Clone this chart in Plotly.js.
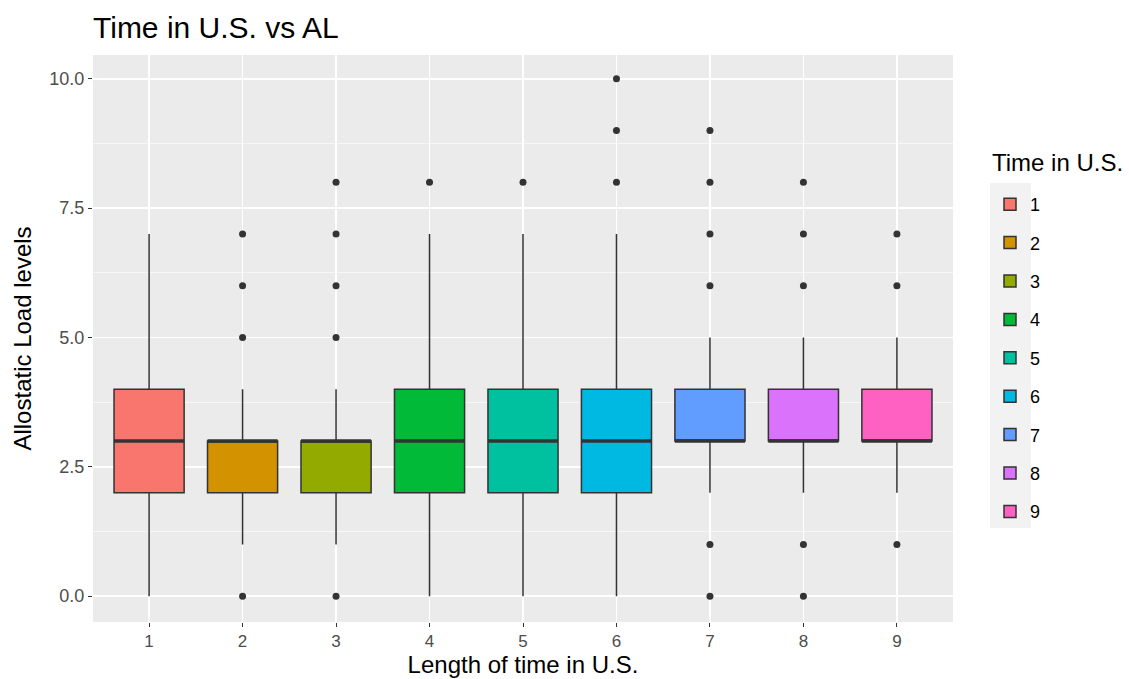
<!DOCTYPE html>
<html>
<head>
<meta charset="utf-8">
<script src="https://cdn.plot.ly/plotly-3.0.1.min.js"></script>
<style>html,body{margin:0;padding:0;background:#fff;}#chart{width:1129px;height:679px;}</style>
</head>
<body>
<div id="chart"></div>
<script>
const groups = [1,2,3,4,5,6,7,8,9];
const groupLabels = ['1','2','3','4','5','6','7','8','9'];
const colors = ['#F8766D','#D39200','#93AA00','#00BA38','#00C19F','#00B9E3','#619CFF','#DB72FB','#FF61C3'];
const q1 = [2,2,2,2,2,2,3,3,3];
const medians = [3,3,3,3,3,3,3,3,3];
const q3 = [4,3,3,4,4,4,4,4,4];
const lowerWhisker = [0,1,1,0,0,0,2,2,2];
const upperWhisker = [7,4,4,7,7,7,5,5,5];
const outliers = [
  [],
  [0,5,6,7],
  [0,5,6,7,8],
  [8],
  [8],
  [8,9,10],
  [0,1,6,7,8,9],
  [0,1,6,7,8],
  [1,6,7]
];
const boxWidth = 0.75;

const traces = [];
groups.forEach((g,i)=>{
  traces.push({
    type:'box', x:[g], q1:[q1[i]], median:[medians[i]], q3:[q3[i]],
    lowerfence:[lowerWhisker[i]], upperfence:[upperWhisker[i]],
    width: boxWidth, whiskerwidth:0,
    fillcolor: colors[i], line:{color:'#333333', width:1.5},
    name: groupLabels[i], legendgroup: groupLabels[i], showlegend:true,
    hoverinfo:'skip'
  });
});
// thick median lines
const mx=[], my=[];
groups.forEach((g,i)=>{ mx.push(g-boxWidth/2, g+boxWidth/2, null); my.push(medians[i], medians[i], null); });
traces.push({type:'scatter', mode:'lines', x:mx, y:my, line:{color:'#333333', width:3.5}, showlegend:false, hoverinfo:'skip'});
// outliers
const ox=[], oy=[];
groups.forEach((g,i)=>{ outliers[i].forEach(v=>{ ox.push(g); oy.push(v); }); });
traces.push({type:'scatter', mode:'markers', x:ox, y:oy, marker:{color:'#333333', size:7}, showlegend:false, hoverinfo:'skip'});

const layout = {
  width:1129, height:679,
  margin:{l:93, r:176, t:55, b:57},
  paper_bgcolor:'#ffffff', plot_bgcolor:'#EBEBEB',
  font:{family:'Arial, Liberation Sans, sans-serif', color:'#000'},
  title:{text:'Time in U.S. vs AL', x:93/1129, xanchor:'left', y:1-27/679, yanchor:'middle', font:{size:30, color:'#000'}},
  boxmode:'overlay',
  xaxis:{
    range:[0.4,9.6], tickvals:groups, ticktext:groupLabels, showgrid:true, gridcolor:'#ffffff', gridwidth:1.5,
    zeroline:false, ticks:'outside', ticklen:4, tickcolor:'#333333', tickfont:{size:17, color:'#4D4D4D'},
    title:{text:'Length of time in U.S.', font:{size:24, color:'#000'}, standoff:4}
  },
  yaxis:{
    range:[-0.5,10.46], tick0:0, dtick:2.5, tickformat:'.1f', showgrid:true, gridcolor:'#ffffff', gridwidth:1.5,
    minor:{dtick:1.25, tick0:0, showgrid:true, gridcolor:'#ffffff', gridwidth:0.6},
    zeroline:false, ticks:'outside', ticklen:4, tickcolor:'#333333', tickfont:{size:18, color:'#4D4D4D'},
    title:{text:'Allostatic Load levels', font:{size:24, color:'#000'}, standoff:10}
  },
  shapes:[{type:'rect', xref:'paper', yref:'paper', x0:(990-93)/860, x1:(1031-93)/860, y0:(622-528)/567, y1:(622-183)/567,
    fillcolor:'#F2F2F2', line:{width:0}, layer:'below'}],
  annotations:[{text:'Time in U.S.', xref:'paper', yref:'paper', x:(990-93)/860, xanchor:'left', y:(622-162)/567, yanchor:'middle',
    showarrow:false, font:{size:24, color:'#000'}}],
  legend:{
    x:(990-93)/860, xanchor:'left', y:(622-186)/567, yanchor:'top',
    font:{size:18, color:'#000'}, tracegroupgap:12, bgcolor:'rgba(0,0,0,0)', itemwidth:30
  }
};
Plotly.newPlot('chart', traces, layout, {displayModeBar:false, staticPlot:true});
</script>
</body>
</html>
